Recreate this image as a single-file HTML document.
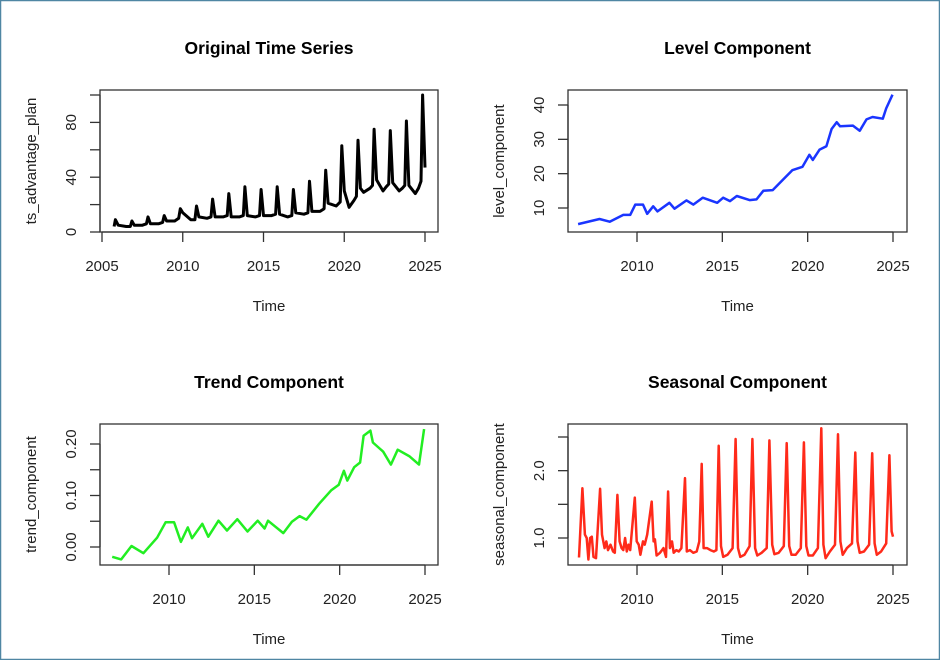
<!DOCTYPE html>
<html><head><meta charset="utf-8"><style>
html,body{margin:0;padding:0;background:#fff;}
svg{display:block;font-family:"Liberation Sans",sans-serif;}
</style></head><body>
<svg id="chart" width="940" height="660" viewBox="0 0 940 660">
<rect x="0.5" y="0.5" width="939" height="659" fill="#fff" stroke="#4f86a3" stroke-width="1.5"/>
</svg>
<script>
// Original series
const origT = [2005.75,2005.83,2006.0,2006.5,2006.75,2006.85,2007.0,2007.5,2007.75,2007.85,2008.0,2008.5,2008.75,2008.85,2009.0,2009.5,2009.75,2009.85,2010.0,2010.5,2010.75,2010.85,2011.0,2011.5,2011.75,2011.85,2012.0,2012.5,2012.75,2012.85,2013.0,2013.5,2013.75,2013.85,2014.0,2014.5,2014.75,2014.85,2015.0,2015.5,2015.75,2015.85,2016.0,2016.5,2016.75,2016.85,2017.0,2017.5,2017.75,2017.85,2018.0,2018.5,2018.75,2018.85,2019.0,2019.5,2019.75,2019.85,2020.0,2020.3,2020.6,2020.75,2020.85,2021.0,2021.2,2021.6,2021.75,2021.85,2022.0,2022.4,2022.6,2022.75,2022.85,2023.0,2023.4,2023.6,2023.75,2023.85,2024.0,2024.4,2024.6,2024.75,2024.85,2025.0];
const origV = [4,9,5,4,4,8,5,5,6,11,6,6,7,12,8,8,10,17,14,9,9,19,11,10,11,24,11,11,12,28,11,11,12,33,12,11,12,31,12,12,13,33,13,11,12,31,14,13,14,37,15,15,17,45,21,19,22,63,30,18,23,26,67,32,29,32,34,75,38,30,33,35,74,36,30,32,34,81,34,28,32,37,100,47];
const origYTicks = [0,20,40,60,80,100];
const origYLabels = ["0","","40","","80",""];
const origXTicks = [2005,2010,2015,2020,2025];
// Level
const levelT = [2006.55,2007.8,2008.4,2009.2,2009.6,2009.9,2010.35,2010.6,2010.95,2011.2,2011.9,2012.2,2012.9,2013.3,2013.85,2014.7,2015.05,2015.45,2015.85,2016.6,2017.0,2017.4,2017.95,2018.55,2019.1,2019.7,2020.1,2020.3,2020.7,2021.1,2021.4,2021.7,2021.9,2022.65,2023.05,2023.45,2023.8,2024.4,2024.6,2024.97];
const levelV = [5.3,6.8,6,8,8,11,11,8.3,10.5,9,11.5,9.8,12.2,11,13,11.5,13,12,13.5,12.3,12.5,15,15.2,18.2,21,22,25.5,24,27,28,33,35,33.8,34,32.5,35.8,36.5,36,39,43];
const levelYTicks = [10,20,30,40];
const levelYLabels = ["10","20","30","40"];
const levelXTicks = [2010,2015,2020,2025];
// Trend
const trendT = [2006.67,2007.2,2007.8,2008.5,2009.3,2009.8,2010.3,2010.7,2011.1,2011.35,2011.95,2012.3,2012.9,2013.4,2014.0,2014.6,2015.2,2015.6,2015.8,2016.7,2017.2,2017.65,2018.05,2018.8,2019.5,2019.95,2020.25,2020.45,2020.85,2021.2,2021.4,2021.8,2021.95,2022.55,2023.0,2023.4,2024.1,2024.65,2024.95];
const trendV = [-0.019,-0.024,0.002,-0.012,0.018,0.048,0.048,0.010,0.038,0.017,0.045,0.020,0.051,0.032,0.054,0.030,0.051,0.036,0.051,0.027,0.049,0.060,0.053,0.084,0.110,0.121,0.148,0.129,0.155,0.164,0.216,0.226,0.203,0.185,0.160,0.189,0.176,0.160,0.229];
const trendYTicks = [0,0.05,0.10,0.15,0.20];
const trendYLabels = ["0.00","","0.10","","0.20"];
const trendXTicks = [2010,2015,2020,2025];
// Seasonal
const seasT = [2006.6,2006.8,2006.95,2007.05,2007.15,2007.25,2007.35,2007.45,2007.6,2007.84,2007.95,2008.1,2008.2,2008.3,2008.45,2008.6,2008.7,2008.85,2008.98,2009.1,2009.2,2009.3,2009.4,2009.5,2009.6,2009.87,2009.98,2010.1,2010.2,2010.35,2010.45,2010.6,2010.86,2010.97,2011.05,2011.15,2011.35,2011.55,2011.7,2011.82,2011.93,2012.05,2012.15,2012.3,2012.45,2012.6,2012.81,2012.92,2013.1,2013.3,2013.5,2013.65,2013.79,2013.9,2014.1,2014.3,2014.5,2014.65,2014.79,2014.92,2015.05,2015.3,2015.6,2015.78,2015.92,2016.05,2016.3,2016.6,2016.76,2016.92,2017.05,2017.3,2017.6,2017.76,2017.92,2018.05,2018.3,2018.6,2018.77,2018.92,2019.05,2019.3,2019.6,2019.78,2019.92,2020.05,2020.3,2020.6,2020.8,2020.92,2021.05,2021.3,2021.6,2021.78,2021.92,2022.05,2022.3,2022.6,2022.79,2022.92,2023.05,2023.3,2023.6,2023.78,2023.92,2024.05,2024.3,2024.6,2024.79,2024.92,2025.0];
const seasV = [0.71,1.74,1.05,1.0,0.68,1.0,1.02,0.72,0.70,1.73,1.05,0.85,0.95,0.82,0.9,0.8,0.78,1.64,0.95,0.85,0.82,1.0,0.8,0.9,0.82,1.60,0.95,0.9,0.75,0.95,0.9,1.05,1.54,0.95,0.98,0.74,0.78,0.85,0.72,1.69,0.85,0.95,0.78,0.82,0.8,0.85,1.89,0.8,0.82,0.78,0.8,0.95,2.10,0.85,0.85,0.82,0.8,0.82,2.37,0.88,0.72,0.75,0.85,2.47,0.85,0.72,0.75,0.88,2.47,0.85,0.74,0.78,0.85,2.45,0.9,0.76,0.78,0.88,2.41,0.88,0.75,0.75,0.85,2.42,0.88,0.74,0.74,0.85,2.63,0.9,0.7,0.8,0.9,2.54,0.95,0.75,0.85,0.92,2.27,0.95,0.78,0.8,0.9,2.26,0.92,0.75,0.8,0.92,2.23,1.1,1.02];
const seasYTicks = [1.0,1.5,2.0,2.5];
const seasYLabels = ["1.0","","2.0",""];
const seasXTicks = [2010,2015,2020,2025];

const NS = "http://www.w3.org/2000/svg";
const svg = document.getElementById("chart");
function mk(tag, attrs, parent){
  const e = document.createElementNS(NS, tag);
  for (const k in attrs) e.setAttribute(k, attrs[k]);
  (parent||svg).appendChild(e);
  return e;
}
function panel(o){
  const g = mk("g", {});
  
  
  const sx = t => o.x0 + (t - o.t0) * (o.x1 - o.x0) / (o.t1 - o.t0);
  const sy = v => o.y0 + (v - o.v0) * (o.y1 - o.y0) / (o.v1 - o.v0);
  const box = mk("rect", {x:o.bx, y:o.by, width:o.bw, height:o.bh, fill:"none", stroke:"#333", "stroke-width":1.3}, g);
  
  
  const ti = mk("text", {x:o.bx+o.bw/2, y:o.by-36, "text-anchor":"middle", "font-size":"17.5", "font-weight":"bold", fill:"#000"}, g);
  ti.textContent = o.title;
  
  
  const xa = mk("g", {}, g);
  
  
  const bot = o.by + o.bh;
  mk("line", {x1:sx(o.xt[0]), x2:sx(o.xt[o.xt.length-1]), y1:bot, y2:bot, stroke:"#333","stroke-width":1.3}, xa);
  o.xt.forEach(t => {
    mk("line", {x1:sx(t), x2:sx(t), y1:bot, y2:bot+10, stroke:"#333","stroke-width":1.3}, xa);
    const tl = mk("text", {x:sx(t), y:bot+39, "text-anchor":"middle", "font-size":"15", fill:"#222"}, xa);
    tl.textContent = String(t);
    
    
  });
  const xt = mk("text", {x:o.bx+o.bw/2, y:bot+79, "text-anchor":"middle", "font-size":"15", fill:"#222"}, g);
  xt.textContent = "Time";
  
  
  const ya = mk("g", {}, g);
  
  
  mk("line", {x1:o.bx, x2:o.bx, y1:sy(o.yt[0]), y2:sy(o.yt[o.yt.length-1]), stroke:"#333","stroke-width":1.3}, ya);
  o.yt.forEach((v,i) => {
    mk("line", {x1:o.bx-10, x2:o.bx, y1:sy(v), y2:sy(v), stroke:"#333","stroke-width":1.3}, ya);
    if (o.yl[i]) {
      const lx = o.bx - 24, ly = sy(v);
      const tl = mk("text", {x:lx, y:ly, "text-anchor":"middle", "font-size":"15", fill:"#222", transform:`rotate(-90 ${lx} ${ly})`}, ya);
      tl.textContent = o.yl[i];
      
      
    }
  });
  const yx = o.bx - 64, yy = o.by + o.bh/2;
  const yt = mk("text", {x:yx, y:yy, "text-anchor":"middle", "font-size":"15", fill:"#222", transform:`rotate(-90 ${yx} ${yy})`}, g);
  yt.textContent = o.ytitle;
  
  
  const d = o.T.map((t,i) => (i?"L":"M") + sx(t).toFixed(1) + "," + sy(o.V[i]).toFixed(1)).join("");
  const p = mk("path", {d:d, fill:"none", stroke:o.color, "stroke-width":o.lw, "stroke-linejoin":"round"}, g);
  
  
}
panel({name:"original-series-panel", title:"Original Time Series", ytitle:"ts_advantage_plan",
  bx:100, by:90, bw:338, bh:142, t0:2005, t1:2025, x0:102, x1:425, v0:0, v1:100, y0:232, y1:95,
  xt:origXTicks, yt:origYTicks, yl:origYLabels, T:origT, V:origV, color:"#000", lw:3});
panel({name:"level-component-panel", title:"Level Component", ytitle:"level_component",
  bx:568, by:90, bw:339, bh:142, t0:2010, t1:2025, x0:637, x1:893, v0:10, v1:40, y0:208, y1:105,
  xt:levelXTicks, yt:levelYTicks, yl:levelYLabels, T:levelT, V:levelV, color:"#1a35ff", lw:2.5});
panel({name:"trend-component-panel", title:"Trend Component", ytitle:"trend_component",
  bx:100, by:424, bw:338, bh:141, t0:2010, t1:2025, x0:169, x1:425, v0:0, v1:0.2, y0:547, y1:444,
  xt:trendXTicks, yt:trendYTicks, yl:trendYLabels, T:trendT, V:trendV, color:"#22ee22", lw:2.5});
panel({name:"seasonal-component-panel", title:"Seasonal Component", ytitle:"seasonal_component",
  bx:568, by:424, bw:339, bh:141, t0:2010, t1:2025, x0:637, x1:893, v0:1.0, v1:2.5, y0:538, y1:437,
  xt:seasXTicks, yt:seasYTicks, yl:seasYLabels, T:seasT, V:seasV, color:"#ff2a1a", lw:2.5});
</script>
</body></html>
